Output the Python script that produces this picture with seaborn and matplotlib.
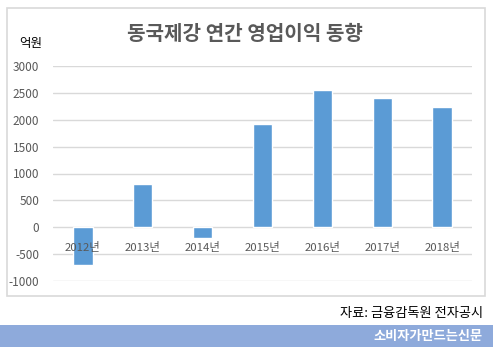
import pandas as pd
import matplotlib.pyplot as plt
import seaborn as sns

# Data: annual operating profit (100 million won)
years = ['2012년', '2013년', '2014년', '2015년', '2016년', '2017년', '2018년']
profit = [-700, 810, -200, 1930, 2560, 2410, 2240]
y_ticks = [-1000, -500, 0, 500, 1000, 1500, 2000, 2500, 3000]

df = pd.DataFrame({'year': years, 'profit': profit})

sns.set_style('white')
plt.rcParams['font.family'] = ['Noto Sans CJK KR', 'DejaVu Sans']

W, H = 493, 355
fig = plt.figure(figsize=(W / 100, H / 100), dpi=100)
fig.patch.set_facecolor('white')

# outer chart frame
fig.patches.append(plt.Rectangle((7 / W, 1 - 296 / H), 478 / W, 288 / H,
                                 transform=fig.transFigure, fill=False,
                                 edgecolor='#d9d9d9', linewidth=1.2))

ax = fig.add_axes([53 / W, 1 - 281 / H, 419 / W, 215 / H])
sns.barplot(data=df, x='year', y='profit', color='#5b9bd5', saturation=1,
            width=0.32, ax=ax, zorder=3)

ax.set_ylim(-1000, 3000)
ax.set_xlim(-0.5, len(years) - 0.5)
ax.set_yticks(y_ticks)
ax.set_yticklabels([str(t) for t in y_ticks], color='#595959', fontsize=8.5)
ax.tick_params(axis='y', length=0, pad=10)
ax.set_xticks([])
ax.grid(axis='y', color='#d9d9d9', linewidth=1, zorder=0)
ax.set_axisbelow(True)
for s in ax.spines.values():
    s.set_visible(False)
ax.set_xlabel('')
ax.set_ylabel('')

# category labels sit just under the zero line (Excel style)
for i, yr in enumerate(years):
    ax.text(i, -370, yr, ha='center', va='center', color='#595959', fontsize=8.2, zorder=4)

fig.text(245 / W, 1 - 33 / H, '동국제강 연간 영업이익 동향', ha='center', va='center',
         fontsize=14.5, fontweight='bold', color='#595959')
fig.text(31 / W, 1 - 44 / H, '억원', ha='center', va='center', fontsize=9, color='#000000')

fig.text(483 / W, 1 - 313 / H, '자료: 금융감독원 전자공시', ha='right', va='center',
         fontsize=9.5, color='#000000')

# bottom banner
fig.patches.append(plt.Rectangle((0, 1 - 347 / H), 1, 22 / H, transform=fig.transFigure,
                                 facecolor='#8eaadb', edgecolor='none'))
fig.text(483 / W, 1 - 336 / H, '소비자가만드는신문', ha='right', va='center',
         fontsize=9.5, fontweight='bold', color='white')

fig.savefig('out.png', dpi=100)
